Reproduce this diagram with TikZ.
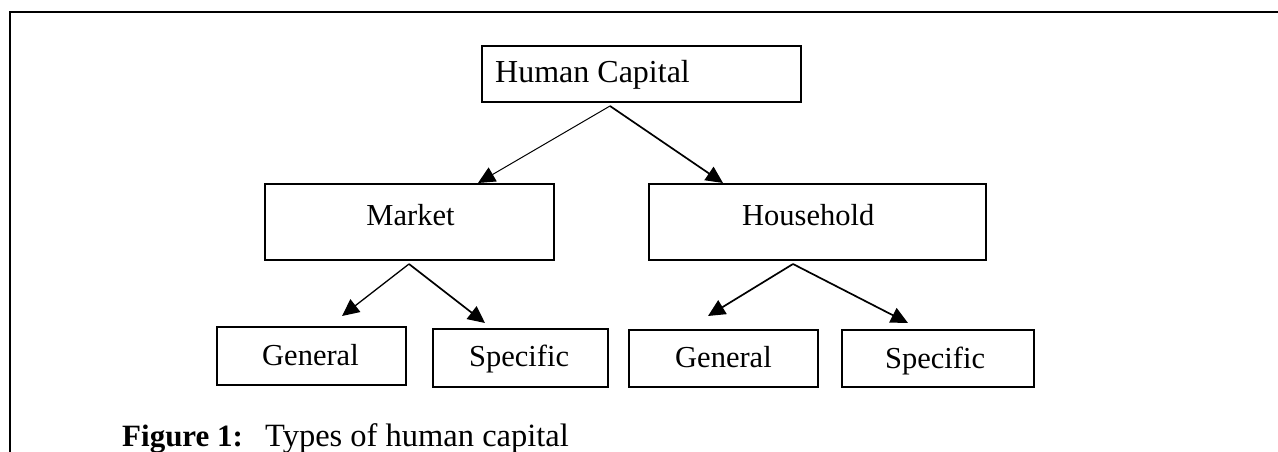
\documentclass[tikz,border=0pt]{standalone}
\usepackage{fontspec}
\setmainfont{Liberation Serif}
\usetikzlibrary{arrows.meta}
\begin{document}
\begin{tikzpicture}[x=1pt,y=-1pt,
  box/.style={draw, line width=2pt, inner sep=0pt, anchor=north west},
  txt/.style={inner sep=0pt, font=\fontsize{30.5}{36}\selectfont},
  conn/.style={-{Triangle[length=17pt,width=16pt]}, line width=1.7pt},
  thinconn/.style={-{Triangle[length=17pt,width=16pt]}, line width=1pt}]
\useasboundingbox (0,0) rectangle (1278,452);
% frame
\draw[line width=2pt] (10,452) -- (10,12) -- (1278,12);
% boxes
\node[box, minimum width=319pt, minimum height=56pt] (hc) at (481,45) {};
\node[box, minimum width=289pt, minimum height=76pt] (market) at (264,183) {};
\node[box, minimum width=337pt, minimum height=76pt] (household) at (648,183) {};
\node[box, minimum width=189pt, minimum height=58pt] (g1) at (216,326) {};
\node[box, minimum width=175pt, minimum height=58pt] (s1) at (432,328) {};
\node[box, minimum width=189pt, minimum height=57pt] (g2) at (628,329) {};
\node[box, minimum width=192pt, minimum height=57pt] (s2) at (841,329) {};
% texts
\node[txt, anchor=base west, font=\fontsize{32}{38}\selectfont] (hct) at (495,83) {Human Capital};
\node[txt, anchor=base] (mt) at (410.5,225) {Market};
\node[txt, anchor=base west] (ht) at (742,225) {Household};
\node[txt, anchor=base west] (g1t) at (262,365) {General};
\node[txt, anchor=base west] (s1t) at (469,366.5) {Specific};
\node[txt, anchor=base west] (g2t) at (675,367.5) {General};
\node[txt, anchor=base west] (s2t) at (885,368) {Specific};
% connector ends
\coordinate (hcs) at (610,106);
\coordinate (mkin) at (478,183);
\coordinate (hhin) at (723,183);
\coordinate (mks) at (409,264);
\coordinate (g1in) at (342,316);
\coordinate (s1in) at (485,323);
\coordinate (hhs) at (793,264);
\coordinate (g2in) at (708,316);
\coordinate (s2in) at (908,323);
\draw[thinconn] (hcs) -- (mkin);
\draw[conn] (hcs) -- (hhin);
\draw[thinconn, line width=1.3pt] (mks) -- (g1in);
\draw[conn] (mks) -- (s1in);
\draw[conn] (hhs) -- (g2in);
\draw[conn] (hhs) -- (s2in);
% caption
\node[txt, anchor=base west, font=\fontsize{31}{36}\selectfont] (cap) at (122,446) {\textbf{Figure 1:}};
\node[txt, anchor=base west, font=\fontsize{32.5}{38}\selectfont] (capt) at (265,446) {Types of human capital};
\end{tikzpicture}
\end{document}
